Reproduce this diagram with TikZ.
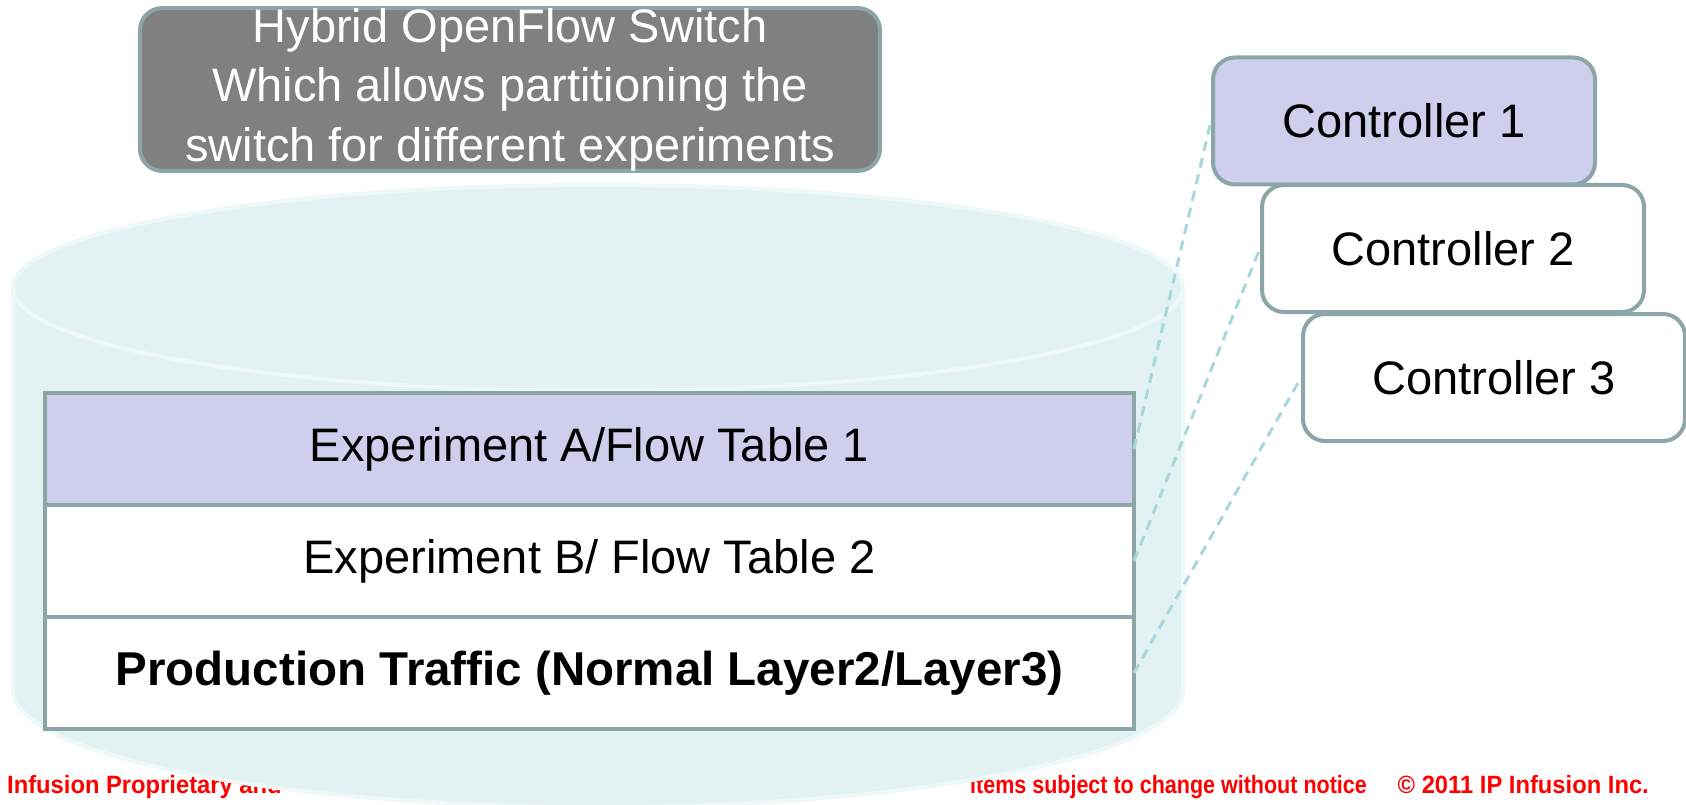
\documentclass[tikz,border=0pt]{standalone}
\usepackage{fontspec}
\setmainfont{Liberation Sans}
\newfontfamily\footfont{Liberation Sans}[FakeStretch=0.95]
\newfontfamily\footnarrow{Liberation Sans}[FakeStretch=0.86]
\usetikzlibrary{positioning}
\definecolor{edgegray}{RGB}{140,166,168}
\definecolor{lavender}{RGB}{206,206,237}
\definecolor{titlegray}{RGB}{128,128,128}
\definecolor{cylfill}{RGB}{226,242,242}
\definecolor{cyledge}{RGB}{239,248,248}
\definecolor{linkcyan}{RGB}{168,216,220}
\definecolor{footred}{RGB}{255,0,0}

\begin{document}
\begin{tikzpicture}[
  x=1pt, y=-1pt,
  every node/.style={font=\fontsize{47}{59.5}\selectfont},
  tablerow/.style={draw=edgegray, line width=4pt, outer sep=0pt, inner sep=0pt,
                   minimum width=1089pt, minimum height=112pt},
  ctrlbox/.style={draw=edgegray, line width=4pt, rounded corners=22pt, fill=white,
                  minimum width=382pt, minimum height=127pt},
  titlebox/.style={draw=edgegray, line width=4pt, rounded corners=22pt, fill=titlegray,
                   text=white, align=center, inner sep=0pt,
                   minimum width=740pt, minimum height=161pt},
  link/.style={draw=linkcyan, line width=3pt, dash pattern=on 10pt off 7pt},
  footer/.style={font=\footfont\bfseries\fontsize{25}{30}\selectfont,
                 text=footred, inner sep=0pt},
]
\useasboundingbox (0,0) rectangle (1686,805);

\node[footer, anchor=base west] (footL) at (7,793) {Infusion Proprietary and};
\node[footer, anchor=base east, font=\footnarrow\bfseries\fontsize{25}{30}\selectfont]
  (footM) at (1367,793) {items subject to change without notice};
\node[footer, anchor=base east] (footR) at (1649,793) {\textcopyright{} 2011 IP Infusion Inc.};

\draw[cyledge, line width=4pt, fill=cylfill]
  (13,288) -- (13,690) arc[start angle=180, end angle=360, x radius=585pt, y radius=117pt]
  -- (1183,288) arc[start angle=0, end angle=180, x radius=585pt, y radius=103pt] -- cycle;
\draw[cyledge, line width=4pt, fill=cylfill] (598,288) ellipse[x radius=585pt, y radius=103pt];

\node[tablerow, fill=lavender] (rowA) at (589.5,449) {Experiment A/Flow Table 1};
\node[tablerow, fill=white, below=0pt of rowA] (rowB) {Experiment B/ Flow Table 2};
\node[tablerow, fill=white, below=0pt of rowB, font=\bfseries\fontsize{47.5}{59.5}\selectfont]
  (rowC) {Production Traffic (Normal Layer2/Layer3)};

\node[ctrlbox] (ctrlC) at (1494,377.5) {Controller 3};
\node[ctrlbox] (ctrlB) at (1453,248.5) {Controller 2};
\node[ctrlbox, fill=lavender] (ctrlA) at (1404,121) {Controller 1};

\draw[link] (rowA.east) -- (ctrlA.west);
\draw[link] (rowB.east) -- (ctrlB.west);
\draw[link] (rowC.east) -- (ctrlC.west);

\node[titlebox] (title) at (510,89.5)
  {Hybrid OpenFlow Switch\\Which allows partitioning the\\switch for different experiments};
\end{tikzpicture}
\end{document}
